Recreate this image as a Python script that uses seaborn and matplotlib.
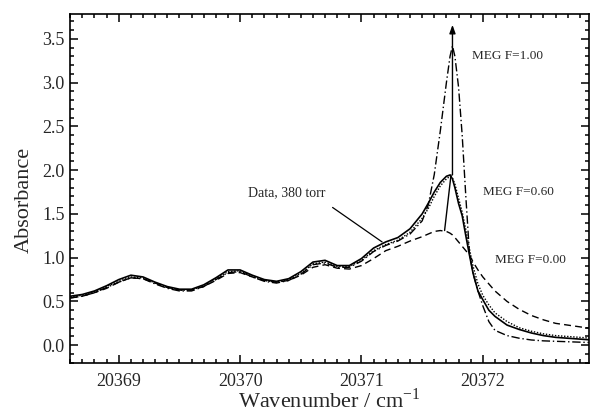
import numpy as np
import pandas as pd
import matplotlib
matplotlib.use("Agg")
import matplotlib.pyplot as plt
from matplotlib.ticker import MultipleLocator
import seaborn as sns

# Wavenumber grid (cm^-1) shared by all spectra
wavenumber = [20368.60, 20368.70, 20368.80, 20368.90, 20369.00, 20369.10, 20369.20,
              20369.30, 20369.40, 20369.50, 20369.60, 20369.70, 20369.80, 20369.90,
              20370.00, 20370.10, 20370.20, 20370.30, 20370.40, 20370.50, 20370.60,
              20370.70, 20370.80, 20370.90, 20371.00, 20371.10, 20371.20, 20371.30,
              20371.40, 20371.50, 20371.55, 20371.60, 20371.65, 20371.70, 20371.73,
              20371.75, 20371.77, 20371.80, 20371.83, 20371.86, 20371.89, 20371.92,
              20371.96, 20372.00, 20372.05, 20372.10, 20372.20, 20372.30, 20372.40,
              20372.50, 20372.60, 20372.70, 20372.80, 20372.90]

# Measured spectrum, 380 torr
data_380 = [0.56, 0.58, 0.62, 0.68, 0.75, 0.80, 0.78, 0.72, 0.67, 0.64, 0.64, 0.69,
            0.77, 0.86, 0.86, 0.80, 0.75, 0.73, 0.76, 0.84, 0.95, 0.97, 0.91, 0.91,
            0.99, 1.11, 1.18, 1.23, 1.33, 1.50, 1.62, 1.75, 1.86, 1.93, 1.945, 1.90,
            1.80, 1.62, 1.48, 1.25, 1.03, 0.82, 0.62, 0.52, 0.40, 0.33, 0.23, 0.18,
            0.14, 0.11, 0.09, 0.08, 0.07, 0.06]

# MEG fits with F = 0.60, 1.00 and 0.00
meg_060 = [0.55, 0.57, 0.61, 0.67, 0.73, 0.78, 0.77, 0.71, 0.66, 0.63, 0.63, 0.68,
           0.76, 0.84, 0.85, 0.79, 0.74, 0.72, 0.75, 0.82, 0.93, 0.95, 0.90, 0.90,
           0.97, 1.08, 1.15, 1.20, 1.29, 1.45, 1.56, 1.70, 1.82, 1.90, 1.93, 1.91,
           1.84, 1.68, 1.52, 1.32, 1.10, 0.90, 0.70, 0.57, 0.46, 0.37, 0.27, 0.20,
           0.16, 0.13, 0.11, 0.10, 0.09, 0.08]

meg_100 = [0.54, 0.56, 0.60, 0.66, 0.72, 0.77, 0.76, 0.70, 0.65, 0.62, 0.62, 0.67,
           0.75, 0.83, 0.84, 0.78, 0.73, 0.71, 0.74, 0.81, 0.92, 0.94, 0.89, 0.89,
           0.96, 1.07, 1.14, 1.19, 1.27, 1.42, 1.60, 1.95, 2.45, 3.00, 3.30, 3.42,
           3.30, 2.95, 2.40, 1.70, 1.05, 0.82, 0.62, 0.45, 0.27, 0.17, 0.11, 0.08,
           0.06, 0.05, 0.045, 0.04, 0.035, 0.03]

meg_000 = [0.54, 0.56, 0.60, 0.65, 0.72, 0.77, 0.76, 0.71, 0.66, 0.63, 0.63, 0.67,
           0.74, 0.82, 0.83, 0.78, 0.74, 0.72, 0.74, 0.80, 0.89, 0.92, 0.88, 0.87,
           0.91, 0.99, 1.08, 1.13, 1.19, 1.24, 1.27, 1.30, 1.31, 1.30, 1.28, 1.26,
           1.23, 1.18, 1.13, 1.08, 1.03, 0.95, 0.86, 0.78, 0.70, 0.62, 0.50, 0.41,
           0.34, 0.29, 0.25, 0.23, 0.21, 0.19]

x_ticks = [20369, 20370, 20371, 20372]
y_ticks = [0.0, 0.5, 1.0, 1.5, 2.0, 2.5, 3.0, 3.5]

sns.set_style("ticks")
plt.rcParams["font.family"] = ["Liberation Serif", "DejaVu Serif"]
plt.rcParams["mathtext.fontset"] = "custom"
plt.rcParams["mathtext.rm"] = "Liberation Serif"

fig = plt.figure(figsize=(5.91, 4.17), dpi=100)
ax = fig.add_axes([0.1184, 0.1297, 0.8782, 0.8370])

series = [
    (meg_000, (0, (5, 3)), 1.0),
    (meg_100, (0, (6, 2, 1, 2)), 1.0),
    (meg_060, (0, (1, 1.2)), 1.0),
    (data_380, "-", 1.2),
]
for values, ls, lw in series:
    df = pd.DataFrame({"wavenumber": wavenumber, "absorbance": values})
    sns.lineplot(data=df, x="wavenumber", y="absorbance", ax=ax, color="black",
                 linestyle=ls, linewidth=lw, sort=False, estimator=None)

ax.set_xlim(20368.598, 20372.875)
ax.set_ylim(-0.202, 3.785)
ax.set_xticks(x_ticks)
ax.set_xticklabels([str(t) for t in x_ticks])
ax.set_yticks(y_ticks)
ax.set_yticklabels([f"{t:.1f}" for t in y_ticks])
ax.xaxis.set_minor_locator(MultipleLocator(0.1))
ax.yaxis.set_minor_locator(MultipleLocator(0.1))
ax.tick_params(which="both", direction="in", top=True, right=True,
               labelsize=13, width=1.1, color="black")
ax.tick_params(which="major", length=6)
ax.tick_params(which="minor", length=3)
ax.tick_params(axis="x", which="major", pad=7)
ax.tick_params(axis="y", which="major", pad=4)
for sp in ax.spines.values():
    sp.set_linewidth(1.2)
    sp.set_color("black")

ax.set_xlabel("Wavenumber / cm$^{\\mathregular{-1}}$", fontsize=16)
ax.set_ylabel("Absorbance", fontsize=16)
ax.xaxis.set_label_coords(0.5, -0.072)
ax.yaxis.set_label_coords(-0.069, 0.467)

# Progression of the band-head peak from F=0.00 to F=1.00
ax.plot([20371.685, 20371.738], [1.31, 1.945], color="black", linewidth=1.0)
ax.annotate("", xy=(20371.75, 3.66), xytext=(20371.75, 1.945),
            arrowprops=dict(arrowstyle="-|>,head_length=0.5,head_width=0.18",
                            color="black", linewidth=1.0, shrinkA=0, shrinkB=0))

ax.annotate("Data, 380 torr", xy=(20371.17, 1.18), xytext=(20370.38, 1.74),
            fontsize=10, ha="center", va="center",
            arrowprops=dict(arrowstyle="-", color="black", linewidth=0.9,
                            shrinkA=6, shrinkB=0, relpos=(0.95, 0.0)))
ax.text(20371.91, 3.30, "MEG F=1.00", fontsize=9.5, ha="left", va="center")
ax.text(20372.00, 1.75, "MEG F=0.60", fontsize=9.5, ha="left", va="center")
ax.text(20372.10, 0.97, "MEG F=0.00", fontsize=9.5, ha="left", va="center")

fig.savefig("out.png", dpi=100)
